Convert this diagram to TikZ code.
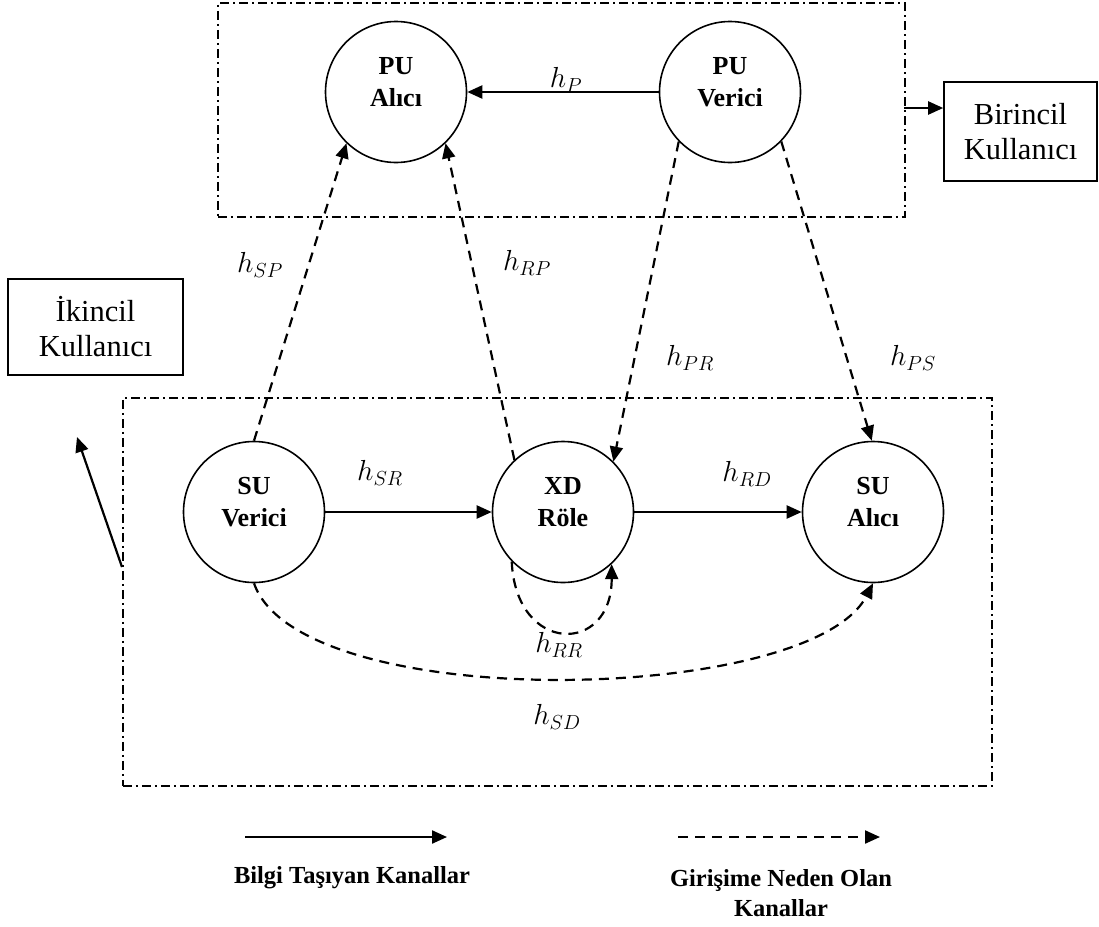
\RequirePackage{fix-cm}
\documentclass[tikz,border=0pt]{standalone}
\usepackage{fontspec}
\setmainfont{Liberation Serif}
\usetikzlibrary{arrows.meta}

\tikzset{
  unit/.style={circle, draw, line width=1.6pt, minimum size=141pt, inner sep=0pt},
  unitlabel/.style={font=\fontsize{26}{32}\selectfont\bfseries, align=center, yshift=10pt},
  group/.style={draw, line width=1.8pt, dash pattern=on 9pt off 4pt on 2pt off 4pt},
  userbox/.style={draw, line width=1.6pt, font=\fontsize{30.5}{35}\selectfont, align=center, inner sep=0pt},
  info/.style={line width=2.2pt, -{Triangle[length=15pt,width=13pt]}},
  interf/.style={line width=2.2pt, dash pattern=on 10pt off 7pt, -{Triangle[length=15pt,width=13pt]}},
  gain/.style={font=\fontsize{29}{35}\selectfont, inner sep=1pt},
  legendtext/.style={font=\fontsize{24.5}{30}\selectfont\bfseries, align=center},
}

\begin{document}
\begin{tikzpicture}[x=1pt, y=-1pt]
  \useasboundingbox (0,0) rectangle (1099,926);

  % group frames
  \node[group, minimum width=687pt, minimum height=214pt, anchor=north west, inner sep=0pt] (pgroup) at (217,2) {};
  \node[group, minimum width=869pt, minimum height=388pt, anchor=north west, inner sep=0pt] (sgroup) at (122,397) {};

  % user type boxes
  \node[userbox, minimum width=153pt, minimum height=99pt] (birincil) at (1020.5,131.5) {Birincil\\Kullanıcı};
  \node[userbox, minimum width=175pt, minimum height=96pt] (ikincil) at (95.5,327) {İkincil\\Kullanıcı};

  % terminals
  \node[unit, label={[unitlabel]center:{PU\\Alıcı}}] (pua) at (396,92) {};
  \node[unit, label={[unitlabel]center:{PU\\Verici}}] (puv) at (730,92) {};
  \node[unit, label={[unitlabel]center:{SU\\Verici}}] (suv) at (254,512) {};
  \node[unit, label={[unitlabel]center:{XD\\Röle}}] (xd) at (563,512) {};
  \node[unit, label={[unitlabel]center:{SU\\Alıcı}}] (sua) at (873,512) {};

  % information-carrying channels
  \draw[info] (puv.west) -- (pua.east);
  \draw[info] (suv.east) -- (xd.west);
  \draw[info] (xd.east) -- (sua.west);

  % interference channels
  \draw[interf] (suv.90) -- (pua.226);
  \draw[interf] (xd.133) -- (pua.314);
  \draw[interf] (puv.224) -- (xd.45);
  \draw[interf] (puv.316) -- (sua.91);
  \draw[interf] (xd.224) .. controls (516,655) and (612,655) .. (xd.313);
  \draw[interf] (suv.270) .. controls (300,715) and (810,705) .. (sua.270);

  % frame pointers
  \coordinate (pout) at (904,108);
  \draw[info] (pout) -- (birincil.west |- pout);
  \coordinate (sout) at (122,567);
  \coordinate (stip) at (77,437);
  \draw[info] (sout) -- (stip);

  % channel gains
  \node[gain] (gP)  at (566,80)  {$h_P$};
  \node[gain] (gSP) at (260,265) {$h_{SP}$};
  \node[gain] (gRP) at (527,263) {$h_{RP}$};
  \node[gain] (gPR) at (690,358) {$h_{PR}$};
  \node[gain] (gPS) at (913,358) {$h_{PS}$};
  \node[gain] (gSR) at (380,473) {$h_{SR}$};
  \node[gain] (gRD) at (747,474) {$h_{RD}$};
  \node[gain] (gRR) at (559,645) {$h_{RR}$};
  \node[gain] (gSD) at (557,717) {$h_{SD}$};

  % legend
  \coordinate (l1s) at (245,837);
  \coordinate (l1e) at (447,837);
  \draw[info] (l1s) -- (l1e);
  \node[legendtext] (l1t) at (352,878) {Bilgi Taşıyan Kanallar};
  \coordinate (l2s) at (678,837);
  \coordinate (l2e) at (880,837);
  \draw[interf] (l2s) -- (l2e);
  \node[legendtext] (l2t) at (781,893) {Girişime Neden Olan\\Kanallar};
\end{tikzpicture}
\end{document}
